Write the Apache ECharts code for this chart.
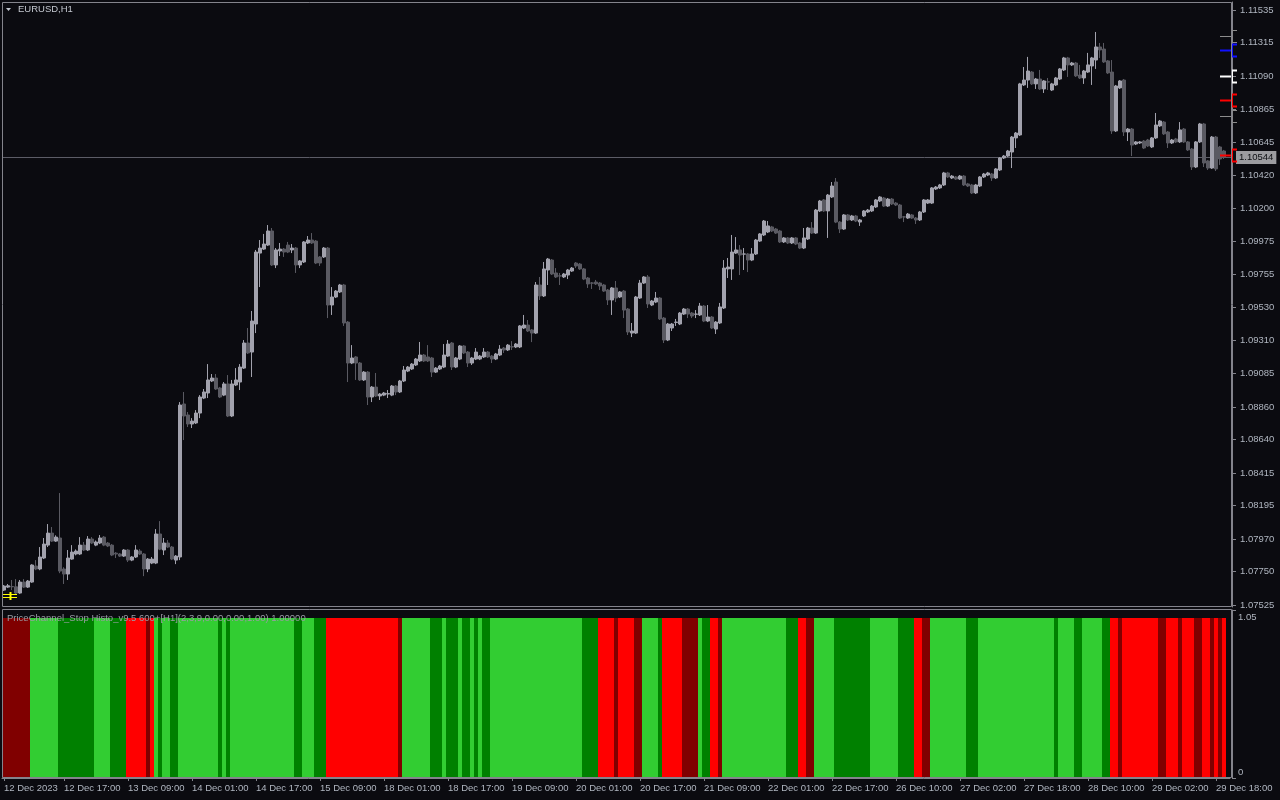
<!DOCTYPE html>
<html><head><meta charset="utf-8">
<script src="https://cdn.jsdelivr.net/npm/echarts@6/dist/echarts.min.js"></script>
<style>html,body{margin:0;padding:0;background:#0b0b10;}#c{width:1280px;height:800px;}</style>
</head><body><div id="c"></div>
<script>
// ---------------- DATA ----------------
const symbolTitle = 'EURUSD,H1';
const indicatorTitle = 'PriceChannel_Stop Histo_v9.5 600+[H1](2,3,9,0.00,0.00,1.00) 1.00000';

const opens = [
1.07626,1.07646,1.07650,1.07648,1.07606,1.07680,1.07646,1.07680,1.07788,1.07768,
1.07842,1.07929,1.08010,1.07956,1.07977,1.07768,1.07734,1.07835,1.07869,1.07869,
1.07929,1.07896,1.07970,1.07929,1.07943,1.07983,1.07943,1.07929,1.07875,1.07869,
1.07855,1.07896,1.07828,1.07849,1.07889,1.07869,1.07768,1.07808,1.07808,1.08004,
1.07896,1.07943,1.07916,1.07828,1.07849,1.08880,1.08806,1.08745,1.08752,1.08819,
1.08920,1.08954,1.09035,1.09055,1.08988,1.08940,1.09015,1.08799,1.09008,1.09028,
1.09122,1.09291,1.09230,1.09419,1.09897,1.09924,1.09951,1.10046,1.09817,1.09911,
1.09924,1.09951,1.09918,1.09931,1.09817,1.09837,1.09965,1.09985,1.09978,1.09871,
1.09871,1.09931,1.09547,1.09601,1.09635,1.09682,1.09432,1.09156,1.09197,1.09156,
1.09042,1.09095,1.08927,1.08994,1.08934,1.08940,1.08947,1.08940,1.09001,1.08961,
1.09035,1.09102,1.09116,1.09143,1.09170,1.09210,1.09197,1.09190,1.09095,1.09116,
1.09129,1.09203,1.09291,1.09129,1.09183,1.09271,1.09230,1.09156,1.09183,1.09183,
1.09197,1.09230,1.09203,1.09183,1.09210,1.09257,1.09244,1.09266,1.09264,1.09264,
1.09392,1.09412,1.09379,1.09358,1.09682,1.09608,1.09783,1.09850,1.09763,1.09744,
1.09736,1.09749,1.09776,1.09830,1.09823,1.09790,1.09729,1.09696,1.09702,1.09695,
1.09682,1.09648,1.09581,1.09662,1.09601,1.09641,1.09520,1.09358,1.09358,1.09594,
1.09695,1.09736,1.09547,1.09567,1.09594,1.09459,1.09311,1.09392,1.09430,1.09419,
1.09486,1.09520,1.09493,1.09485,1.09480,1.09540,1.09439,1.09466,1.09385,1.09426,
1.09527,1.09790,1.09790,1.09897,1.09918,1.09890,1.09891,1.09850,1.09891,1.09978,
1.10019,1.10039,1.10073,1.10059,1.10046,1.09972,1.09999,1.09965,1.09999,1.09965,
1.09931,1.09992,1.10066,1.10032,1.10181,1.10255,1.10181,1.10275,1.10376,1.10106,
1.10059,1.10154,1.10120,1.10147,1.10106,1.10147,1.10174,1.10181,1.10208,1.10248,
1.10268,1.10214,1.10261,1.10234,1.10221,1.10141,1.10133,1.10154,1.10133,1.10120,
1.10174,1.10234,1.10234,1.10329,1.10336,1.10356,1.10437,1.10403,1.10410,1.10396,
1.10416,1.10363,1.10356,1.10302,1.10349,1.10410,1.10423,1.10430,1.10403,1.10457,
1.10538,1.10551,1.10578,1.10673,1.10693,1.11030,1.11063,1.11117,1.11037,1.11070,
1.11003,1.11051,1.10996,1.11030,1.11070,1.11131,1.11212,1.11165,1.11178,1.11097,
1.11077,1.11117,1.11158,1.11198,1.11286,1.11272,1.11192,1.11117,1.10720,1.11010,
1.11063,1.10713,1.10733,1.10632,1.10639,1.10652,1.10659,1.10612,1.10673,1.10754,
1.10780,1.10713,1.10639,1.10666,1.10646,1.10733,1.10646,1.10598,1.10477,1.10646,
1.10767,1.10518,1.10470,1.10679,1.10612,1.10585
];
const closes = [
1.07653,1.07655,1.07648,1.07606,1.07680,1.07646,1.07687,1.07795,1.07768,1.07849,
1.07936,1.08010,1.07956,1.07983,1.07754,1.07734,1.07842,1.07882,1.07889,1.07929,
1.07896,1.07970,1.07943,1.07950,1.07977,1.07929,1.07923,1.07862,1.07869,1.07855,
1.07896,1.07828,1.07849,1.07896,1.07869,1.07768,1.07835,1.07835,1.08004,1.07902,
1.07943,1.07916,1.07835,1.07855,1.08873,1.08799,1.08745,1.08765,1.08819,1.08927,
1.08961,1.09042,1.09055,1.08981,1.08927,1.09015,1.08799,1.09015,1.09042,1.09129,
1.09291,1.09224,1.09439,1.09904,1.09931,1.09958,1.10046,1.09817,1.09918,1.09924,
1.09904,1.09904,1.09931,1.09817,1.09844,1.09972,1.09985,1.09965,1.09830,1.09830,
1.09931,1.09547,1.09601,1.09641,1.09682,1.09426,1.09156,1.09190,1.09156,1.09042,
1.09095,1.08927,1.08994,1.08934,1.08947,1.08954,1.08950,1.09001,1.08961,1.09035,
1.09109,1.09129,1.09149,1.09183,1.09210,1.09170,1.09170,1.09095,1.09122,1.09136,
1.09210,1.09284,1.09129,1.09190,1.09271,1.09224,1.09156,1.09190,1.09230,1.09203,
1.09230,1.09197,1.09183,1.09217,1.09250,1.09244,1.09277,1.09264,1.09284,1.09406,
1.09412,1.09372,1.09358,1.09682,1.09608,1.09790,1.09857,1.09756,1.09736,1.09742,
1.09756,1.09783,1.09796,1.09810,1.09790,1.09722,1.09689,1.09694,1.09689,1.09675,
1.09641,1.09581,1.09662,1.09594,1.09635,1.09513,1.09365,1.09372,1.09601,1.09695,
1.09736,1.09554,1.09574,1.09594,1.09453,1.09311,1.09419,1.09419,1.09432,1.09493,
1.09520,1.09486,1.09473,1.09486,1.09540,1.09439,1.09466,1.09392,1.09432,1.09534,
1.09796,1.09803,1.09904,1.09918,1.09884,1.09891,1.09850,1.09891,1.09985,1.10026,
1.10113,1.10080,1.10046,1.10032,1.09972,1.09999,1.09965,1.09999,1.09958,1.09931,
1.09999,1.10066,1.10032,1.10187,1.10248,1.10181,1.10288,1.10349,1.10106,1.10059,
1.10154,1.10120,1.10147,1.10113,1.10120,1.10181,1.10187,1.10214,1.10255,1.10275,
1.10214,1.10261,1.10228,1.10221,1.10133,1.10140,1.10160,1.10133,1.10120,1.10174,
1.10255,1.10255,1.10336,1.10342,1.10356,1.10437,1.10410,1.10416,1.10396,1.10416,
1.10356,1.10349,1.10302,1.10356,1.10410,1.10430,1.10437,1.10403,1.10464,1.10538,
1.10551,1.10585,1.10679,1.10706,1.11037,1.11063,1.11124,1.11037,1.11070,1.11003,
1.11057,1.11050,1.11037,1.11077,1.11138,1.11212,1.11165,1.11178,1.11091,1.11077,
1.11124,1.11165,1.11212,1.11286,1.11266,1.11185,1.11111,1.10720,1.11023,1.11057,
1.10713,1.10733,1.10625,1.10646,1.10646,1.10605,1.10619,1.10673,1.10760,1.10787,
1.10700,1.10639,1.10659,1.10646,1.10727,1.10646,1.10592,1.10477,1.10646,1.10767,
1.10504,1.10470,1.10679,1.10464,1.10531,1.10544
];
const lows = [
1.07620,1.07640,1.07626,1.07599,1.07600,1.07640,1.07640,1.07675,1.07760,1.07760,
1.07835,1.07916,1.07950,1.07950,1.07740,1.07667,1.07694,1.07830,1.07860,1.07862,
1.07889,1.07889,1.07936,1.07922,1.07936,1.07922,1.07916,1.07855,1.07842,1.07849,
1.07849,1.07815,1.07821,1.07842,1.07862,1.07720,1.07747,1.07801,1.07801,1.07895,
1.07862,1.07909,1.07828,1.07801,1.07828,1.08637,1.08725,1.08718,1.08745,1.08785,
1.08913,1.08920,1.09028,1.08975,1.08920,1.08933,1.08792,1.08792,1.09001,1.08974,
1.09116,1.09217,1.09062,1.09358,1.09668,1.09918,1.09945,1.09810,1.09796,1.09877,
1.09871,1.09897,1.09897,1.09763,1.09796,1.09830,1.09958,1.09958,1.09823,1.09810,
1.09864,1.09459,1.09480,1.09594,1.09628,1.09406,1.09028,1.09149,1.09042,1.09035,
1.09035,1.08873,1.08893,1.08927,1.08907,1.08933,1.08920,1.08933,1.08940,1.08954,
1.09028,1.09095,1.09109,1.09136,1.09163,1.09163,1.09163,1.09062,1.09089,1.09109,
1.09122,1.09197,1.09109,1.09122,1.09176,1.09217,1.09129,1.09143,1.09176,1.09176,
1.09190,1.09190,1.09156,1.09176,1.09203,1.09224,1.09237,1.09244,1.09257,1.09257,
1.09385,1.09365,1.09297,1.09352,1.09581,1.09601,1.09682,1.09749,1.09729,1.09682,
1.09729,1.09722,1.09770,1.09796,1.09783,1.09715,1.09662,1.09655,1.09682,1.09648,
1.09635,1.09547,1.09480,1.09567,1.09594,1.09459,1.09345,1.09331,1.09352,1.09588,
1.09689,1.09527,1.09540,1.09560,1.09446,1.09291,1.09304,1.09372,1.09406,1.09412,
1.09480,1.09459,1.09459,1.09459,1.09473,1.09432,1.09432,1.09385,1.09352,1.09419,
1.09520,1.09729,1.09716,1.09891,1.09749,1.09783,1.09769,1.09843,1.09884,1.09972,
1.10012,1.10032,1.10039,1.10026,1.09965,1.09965,1.09958,1.09958,1.09951,1.09924,
1.09924,1.09985,1.10026,1.10026,1.10174,1.10174,1.09999,1.10268,1.10099,1.10032,
1.10053,1.10113,1.10113,1.10106,1.10080,1.10140,1.10167,1.10174,1.10201,1.10241,
1.10208,1.10208,1.10221,1.10214,1.10127,1.10106,1.10127,1.10127,1.10093,1.10113,
1.10167,1.10228,1.10228,1.10322,1.10329,1.10349,1.10403,1.10396,1.10390,1.10390,
1.10349,1.10342,1.10295,1.10295,1.10342,1.10403,1.10416,1.10383,1.10396,1.10450,
1.10531,1.10544,1.10470,1.10605,1.10686,1.11023,1.11010,1.11030,1.11003,1.10996,
1.10976,1.10996,1.10989,1.11023,1.11063,1.11124,1.11084,1.11158,1.11084,1.11070,
1.11037,1.11111,1.11030,1.11138,1.11212,1.11178,1.11104,1.10700,1.10713,1.11003,
1.10686,1.10652,1.10551,1.10625,1.10632,1.10598,1.10612,1.10605,1.10666,1.10747,
1.10693,1.10605,1.10632,1.10639,1.10639,1.10639,1.10585,1.10457,1.10470,1.10639,
1.10477,1.10457,1.10464,1.10450,1.10491,1.10531
];
const highs = [
1.07660,1.07667,1.07694,1.07700,1.07694,1.07700,1.07694,1.07800,1.07828,1.07916,
1.07977,1.08071,1.08051,1.07995,1.08280,1.07780,1.07896,1.07929,1.07900,1.07983,
1.07950,1.07990,1.07983,1.07960,1.07997,1.07990,1.07950,1.07936,1.07882,1.07875,
1.07902,1.07902,1.07855,1.07929,1.07902,1.07875,1.07842,1.07849,1.08037,1.08091,
1.07977,1.07963,1.07923,1.07862,1.08893,1.08961,1.08826,1.08785,1.08839,1.08940,
1.08981,1.09149,1.09082,1.09082,1.08995,1.09028,1.09075,1.09042,1.09122,1.09149,
1.09311,1.09392,1.09507,1.09918,1.09985,1.10026,1.10086,1.10066,1.09931,1.09965,
1.09931,1.09972,1.09958,1.09938,1.09850,1.09978,1.10012,1.10032,1.09985,1.09877,
1.09938,1.09938,1.09668,1.09648,1.09689,1.09689,1.09439,1.09277,1.09203,1.09163,
1.09102,1.09102,1.09001,1.09089,1.08954,1.08961,1.08974,1.09008,1.09008,1.09042,
1.09136,1.09136,1.09156,1.09190,1.09298,1.09217,1.09277,1.09197,1.09129,1.09143,
1.09284,1.09311,1.09298,1.09197,1.09277,1.09277,1.09237,1.09197,1.09257,1.09210,
1.09257,1.09237,1.09210,1.09224,1.09277,1.09264,1.09284,1.09304,1.09291,1.09412,
1.09480,1.09446,1.09385,1.09702,1.09736,1.09837,1.09864,1.09857,1.09796,1.09763,
1.09763,1.09790,1.09803,1.09837,1.09830,1.09796,1.09736,1.09702,1.09716,1.09702,
1.09689,1.09655,1.09668,1.09709,1.09641,1.09648,1.09527,1.09426,1.09608,1.09716,
1.09742,1.09749,1.09581,1.09635,1.09601,1.09466,1.09426,1.09426,1.09453,1.09500,
1.09527,1.09527,1.09500,1.09513,1.09561,1.09547,1.09547,1.09473,1.09439,1.09561,
1.09850,1.09864,1.10019,1.10005,1.09951,1.09931,1.09897,1.09931,1.09992,1.10032,
1.10120,1.10113,1.10080,1.10066,1.10053,1.10005,1.10005,1.10005,1.10005,1.09972,
1.10066,1.10073,1.10106,1.10194,1.10255,1.10261,1.10295,1.10376,1.10403,1.10113,
1.10160,1.10160,1.10154,1.10154,1.10127,1.10187,1.10194,1.10221,1.10261,1.10281,
1.10275,1.10268,1.10268,1.10241,1.10228,1.10147,1.10167,1.10160,1.10140,1.10181,
1.10261,1.10261,1.10342,1.10349,1.10363,1.10444,1.10444,1.10423,1.10416,1.10423,
1.10423,1.10370,1.10363,1.10363,1.10416,1.10437,1.10444,1.10437,1.10470,1.10544,
1.10558,1.10592,1.10686,1.10713,1.11044,1.11151,1.11219,1.11124,1.11077,1.11131,
1.11063,1.11077,1.11044,1.11084,1.11144,1.11219,1.11219,1.11185,1.11185,1.11165,
1.11131,1.11246,1.11219,1.11387,1.11313,1.11313,1.11198,1.11198,1.11030,1.11063,
1.11070,1.10740,1.10740,1.10652,1.10652,1.10659,1.10666,1.10679,1.10841,1.10794,
1.10787,1.10720,1.10666,1.10673,1.10780,1.10740,1.10652,1.10605,1.10652,1.10774,
1.10774,1.10524,1.10686,1.10686,1.10619,1.10592
];

// Histogram state per bar, run-length: D=dark red, R=red, L=lime, G=green
const histRuns = 'D7 L7 G9 L4 G4 R5 D1 R1 L1 G1 L2 G2 L10 G1 L1 G1 L16 G2 L3 G3 R18 D1 L7 G3 L1 G3 L1 G2 L1 G1 L1 G2 L23 G4 R4 D1 R4 D2 L4 G1 R5 D4 L1 G2 R2 D1 L16 G3 R2 D2 L5 G9 L7 G4 R2 D2 L9 G3 L19 G1 L4 G2 L5 G2 R2 D1 R9 D2 R3 D1 R3 D2 R2 D1 R1 D1 R1';
const histValue = 1.0;

const priceTicks = [1.11535,1.11315,1.11090,1.10865,1.10645,1.10420,1.10200,1.09975,1.09755,1.09530,1.09310,1.09085,1.08860,1.08640,1.08415,1.08195,1.07970,1.07750,1.07525];
const timeTickIdx = [0,15,31,47,63,79,95,111,127,143,159,175,191,207,223,239,255,271,287,303];
const timeTickLabels = ['12 Dec 2023','12 Dec 17:00','13 Dec 09:00','14 Dec 01:00','14 Dec 17:00','15 Dec 09:00','18 Dec 01:00','18 Dec 17:00','19 Dec 09:00','20 Dec 01:00','20 Dec 17:00','21 Dec 09:00','22 Dec 01:00','22 Dec 17:00','26 Dec 10:00','27 Dec 02:00','27 Dec 18:00','28 Dec 10:00','29 Dec 02:00','29 Dec 18:00'];
const indTickLabels = ['0','1.05'];

// right-edge price level markers
const markerPrices = [1.11360,1.11265,1.11090,1.10928,1.10821,1.10558];
const markerColors = ['#8c8c8c','#1010ff','#ffffff','#ff0000','#8c8c8c','#ff0000'];
const startGlyphPrice = 1.07589;

// ---------------- BUILD ----------------
const FONT = '"Liberation Sans", Arial, sans-serif';
const BG = '#0b0b10';
const TXT = '#b0b6c0';
const FRAME = '#84848c';
const BULL = '#a2a2ad';
const BEAR = '#5a5a62';
const histColor = {D:'#800000', R:'#ff0000', L:'#32cd32', G:'#008000'};

const N = opens.length;
const cats = [];
for (let i = 0; i <= N; i++) cats.push(String(i)); // one empty slot at the right edge
const candleData = opens.map((o, i) => [o, closes[i], lows[i], highs[i]]);
const histStates = [];
histRuns.split(' ').forEach(r => { const c = r[0], n = +r.slice(1); for (let k = 0; k < n; k++) histStates.push(c); });
const histData = histStates.map(s => ({ value: histValue, itemStyle: { color: histColor[s] } }));
const tickMap = {};
timeTickIdx.forEach((ix, k) => { tickMap[ix] = timeTickLabels[k]; });
const lastClose = closes[N - 1];

const chart = echarts.init(document.getElementById('c'), null, { renderer: 'canvas' });
const option = {
  backgroundColor: BG,
  animation: false,
  textStyle: { fontFamily: FONT },
  grid: [
    { left: 2, top: 2, width: 1228, height: 605 },
    { left: 2, top: 610, width: 1228, height: 168 }
  ],
  xAxis: [
    { type: 'category', gridIndex: 0, data: cats, boundaryGap: true,
      axisLine: { show: false }, axisTick: { show: false }, axisLabel: { show: false }, splitLine: { show: false } },
    { type: 'category', gridIndex: 1, data: cats, boundaryGap: true,
      axisLine: { show: true, lineStyle: { color: FRAME } },
      axisTick: { show: true, alignWithLabel: true, length: 3, interval: (i) => tickMap[i] !== undefined, lineStyle: { color: FRAME } },
      axisLabel: { show: true, interval: (i) => tickMap[i] !== undefined, formatter: (v, i) => tickMap[i] || '',
        align: 'left', margin: 5, color: TXT, fontSize: 9.5, fontFamily: FONT },
      splitLine: { show: false } }
  ],
  yAxis: [
    { type: 'value', gridIndex: 0, position: 'right', offset: 2, min: 1.07512, max: 1.11589, scale: true,
      axisLine: { show: true, lineStyle: { color: FRAME } },
      axisTick: { show: true, length: 4, customValues: priceTicks, lineStyle: { color: FRAME } },
      axisLabel: { show: true, customValues: priceTicks, formatter: v => v.toFixed(5), margin: 8,
        color: TXT, fontSize: 9.5, fontFamily: FONT },
      splitLine: { show: false } },
    { type: 'value', gridIndex: 1, position: 'right', offset: 2, min: 0, max: 1.05, interval: 1.05,
      axisLine: { show: true, lineStyle: { color: FRAME } },
      axisTick: { show: true, length: 4, lineStyle: { color: FRAME } },
      axisLabel: { show: true, margin: 6, color: TXT, fontSize: 9.5, fontFamily: FONT,
        formatter: v => v > 0.5 ? '{t|' + indTickLabels[1] + '}' : '{b|' + indTickLabels[0] + '}',
        rich: { t: { padding: [14, 0, 0, 0], color: TXT, fontSize: 9.5, fontFamily: FONT },
                b: { padding: [0, 0, 12, 0], color: TXT, fontSize: 9.5, fontFamily: FONT } } },
      splitLine: { show: false } }
  ],
  series: [
    // bid line (drawn first so candles sit over it)
    { type: 'custom', xAxisIndex: 0, yAxisIndex: 0, clip: false, silent: true, z: 1,
      data: [[N - 1, lastClose]],
      renderItem: (params, api) => {
        const cs = params.coordSys;
        const y = Math.round(api.coord([api.value(0), api.value(1)])[1]) + 0.5;
        const R = cs.x + cs.width + 2;
        return { type: 'group', children: [
          { type: 'line', shape: { x1: cs.x, y1: y, x2: R, y2: y }, style: { stroke: '#5c5c66', lineWidth: 1 } },
          { type: 'text', x: R + 4, y: y, style: { text: api.value(1).toFixed(5), fill: '#0c0e12',
              backgroundColor: '#9c9ca0', padding: [2, 3, 1, 3], font: '9.5px ' + FONT,
              verticalAlign: 'middle', align: 'left' } }
        ] };
      } },
    { type: 'candlestick', xAxisIndex: 0, yAxisIndex: 0, data: candleData, barWidth: 3, z: 2,
      itemStyle: { color: BULL, color0: BEAR, borderColor: BULL, borderColor0: BEAR, borderWidth: 1 } },
    { type: 'bar', xAxisIndex: 1, yAxisIndex: 1, data: histData, barCategoryGap: '0%', barGap: '0%' },
    { type: 'custom', xAxisIndex: 0, yAxisIndex: 0, clip: false, silent: true, z: 3,
      data: markerPrices.map(p => [0, p]),
      renderItem: (params, api) => {
        const cs = params.coordSys;
        const R = cs.x + cs.width + 2;
        const y = Math.round(api.coord([0, api.value(1)])[1]) + 0.5;
        const c = markerColors[params.dataIndex];
        const w = c === '#8c8c8c' ? 1 : 2;
        return { type: 'group', children: [
          { type: 'line', shape: { x1: R - 12, y1: y, x2: R, y2: y }, style: { stroke: c, lineWidth: w } },
          { type: 'polyline', shape: { points: [[R + 5, y - 6], [R, y - 6], [R, y + 6], [R + 5, y + 6]] },
            style: { stroke: c, lineWidth: w, fill: null } }
        ] };
      } },
    { type: 'custom', xAxisIndex: 0, yAxisIndex: 0, clip: false, silent: true, z: 3,
      data: [[0, startGlyphPrice]],
      renderItem: (params, api) => {
        const p = api.coord([0, api.value(1)]);
        const x = Math.round(p[0]), y = Math.round(p[1]);
        const st = { stroke: '#ffff00', lineWidth: 1 };
        return { type: 'group', children: [
          { type: 'line', shape: { x1: x - 1, y1: y - 1.5, x2: x + 13, y2: y - 1.5 }, style: st },
          { type: 'line', shape: { x1: x - 1, y1: y + 1.5, x2: x + 13, y2: y + 1.5 }, style: st },
          { type: 'line', shape: { x1: x + 6.5, y1: y - 4, x2: x + 6.5, y2: y + 4 }, style: { stroke: '#ffff00', lineWidth: 2 } }
        ] };
      } }
  ],
  graphic: [
    { type: 'rect', silent: true, z: 100, shape: { x: 2.5, y: 2.5, width: 1229, height: 604 }, style: { fill: null, stroke: FRAME, lineWidth: 1 } },
    { type: 'rect', silent: true, z: 100, shape: { x: 2.5, y: 609.5, width: 1229, height: 168 }, style: { fill: null, stroke: FRAME, lineWidth: 1 } },
    { type: 'polygon', silent: true, z: 100, shape: { points: [[6, 8], [11, 8], [8.5, 11]] }, style: { fill: '#c4c8d0' } },
    { type: 'text', silent: true, z: 100, left: 18, top: 4, style: { text: symbolTitle, fill: '#c4c8d0', font: '9.5px ' + FONT } },
    { type: 'text', silent: true, z: 100, left: 7, top: 613, style: { text: indicatorTitle, fill: '#9a9ca4', font: '9.5px ' + FONT } }
  ]
};
chart.setOption(option);
</script>
</body></html>
